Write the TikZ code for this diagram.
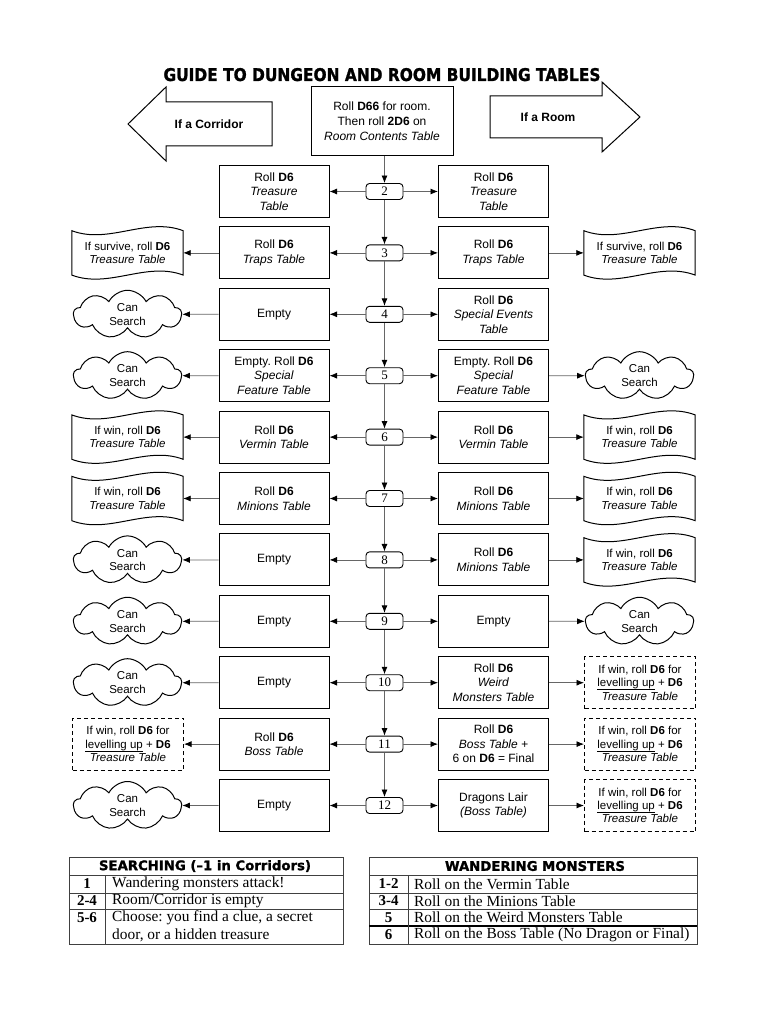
\documentclass[tikz,border=0pt]{standalone}
\usepackage{fontspec}
\setmainfont{Liberation Sans}
\newfontfamily\seriffont{Liberation Serif}
\newfontfamily\headfont{DejaVu Sans Bold}[FakeBold=1.3]
\usetikzlibrary{arrows.meta,shapes.symbols}
\frenchspacing
\newcommand\serifnum{\seriffont\fontsize{13}{13}\selectfont}
\newcommand\outerfont{\fontsize{11.5}{13.5}\selectfont}
\newcommand\lvlul[1]{\underline{\smash{#1}\rule[-1.1pt]{0pt}{0pt}}}
\newcommand\wavydoc[1]{\draw[line width=1pt] (#1.north west) .. controls +(37,14) and +(-37,-14) .. (#1.north east) -- (#1.south east) .. controls +(-37,-14) and +(37,14) .. (#1.south west) -- cycle;}
\tikzset{
 midbox/.style={draw, line width=1pt, minimum width=110pt, minimum height=52pt, align=center, inner sep=1pt, font=\fontsize{12}{14.5}\selectfont},
 numbox/.style={draw, line width=0.9pt, rounded corners=3.5pt, minimum width=37pt, minimum height=16pt, inner sep=0pt, font=\serifnum},
 conn/.style={draw=black!60, line width=0.8pt, -{Latex[length=7.5pt,width=6pt,color=black]}},
 cloudbox/.style={cloud, cloud puffs=9, cloud puff arc=125, aspect=2.3, draw, line width=1pt, minimum width=108pt, minimum height=48pt, inner sep=0pt, align=center, font=\outerfont},
 dashbox/.style={draw, line width=1pt, dash pattern=on 4pt off 3pt, minimum width=111pt, minimum height=52pt, align=center, inner sep=1pt, font=\fontsize{11.5}{13.3}\selectfont},
 wavebox/.style={minimum width=111pt, minimum height=44pt, align=center, inner sep=0pt, font=\outerfont},
 tabline/.style={draw=black!75, line width=0.8pt},
 tabtext/.style={anchor=west, inner sep=0pt, font=\seriffont\fontsize{15.4}{17}\selectfont},
 tabnum/.style={inner sep=0pt, font=\seriffont\bfseries\fontsize{15}{17}\selectfont},
 bigarrow/.style={draw, line width=1pt, fill=white},
}
\begin{document}
\begin{tikzpicture}[x=1pt,y=-1pt]
\useasboundingbox[fill=white] (0,0) rectangle (768,1024);

% title
\node[anchor=base, inner sep=0pt] (title) at (382,81) {\resizebox{437pt}{13pt}{\headfont GUIDE TO DUNGEON AND ROOM BUILDING TABLES}};

% big arrows
\draw[bigarrow] (128,124) -- (166,87) -- (166,102) -- (272,102) -- (272,146) -- (166,146) -- (166,161) -- cycle;
\node[font=\bfseries\fontsize{12}{14}\selectfont] (corr) at (209,124) {If a Corridor};
\draw[bigarrow] (640,117) -- (602,82) -- (602,96) -- (490,96) -- (490,138) -- (602,138) -- (602,152) -- cycle;
\node[font=\bfseries\fontsize{12}{14}\selectfont] (room) at (548,117) {If a Room};

% start box
\node[draw, line width=1pt, minimum width=142pt, minimum height=69pt, align=center, inner sep=1pt, font=\fontsize{12}{15}\selectfont] (start) at (382,121) {Roll \textbf{D66} for room.\\Then roll \textbf{2D6} on\\\textit{Room Contents Table}};

% number boxes
\node[numbox] (n2) at (384.5,191.5) {2};
\node[numbox] (n3) at (384.5,252.9) {3};
\node[numbox] (n4) at (384.5,314.3) {4};
\node[numbox] (n5) at (384.5,375.7) {5};
\node[numbox] (n6) at (384.5,437.1) {6};
\node[numbox] (n7) at (384.5,498.5) {7};
\node[numbox] (n8) at (384.5,559.9) {8};
\node[numbox] (n9) at (384.5,621.3) {9};
\node[numbox] (n10) at (384.5,682.7) {10};
\node[numbox] (n11) at (384.5,744.1) {11};
\node[numbox] (n12) at (384.5,805.5) {12};

% vertical spine
\coordinate (s0) at (start.south -| n2.north);
\draw[conn] (s0) -- (n2.north);
\draw[conn] (n2.south) -- (n3.north);
\draw[conn] (n3.south) -- (n4.north);
\draw[conn] (n4.south) -- (n5.north);
\draw[conn] (n5.south) -- (n6.north);
\draw[conn] (n6.south) -- (n7.north);
\draw[conn] (n7.south) -- (n8.north);
\draw[conn] (n8.south) -- (n9.north);
\draw[conn] (n9.south) -- (n10.north);
\draw[conn] (n10.south) -- (n11.north);
\draw[conn] (n11.south) -- (n12.north);

% middle boxes left (corridor) and right (room)
\node[midbox] (l2) at (274,191.5) {Roll \textbf{D6}\\\textit{Treasure}\\\textit{Table}};
\node[midbox] (r2) at (493.5,191.5) {Roll \textbf{D6}\\\textit{Treasure}\\\textit{Table}};
\node[midbox] (l3) at (274,252.9) {Roll \textbf{D6}\\\textit{Traps Table}};
\node[midbox] (r3) at (493.5,252.9) {Roll \textbf{D6}\\\textit{Traps Table}};
\node[midbox] (l4) at (274,314.3) {Empty};
\node[midbox] (r4) at (493.5,314.3) {Roll \textbf{D6}\\\textit{Special Events}\\\textit{Table}};
\node[midbox] (l5) at (274,375.7) {Empty. Roll \textbf{D6}\\\textit{Special}\\\textit{Feature Table}};
\node[midbox] (r5) at (493.5,375.7) {Empty. Roll \textbf{D6}\\\textit{Special}\\\textit{Feature Table}};
\node[midbox] (l6) at (274,437.1) {Roll \textbf{D6}\\\textit{Vermin Table}};
\node[midbox] (r6) at (493.5,437.1) {Roll \textbf{D6}\\\textit{Vermin Table}};
\node[midbox] (l7) at (274,498.5) {Roll \textbf{D6}\\\textit{Minions Table}};
\node[midbox] (r7) at (493.5,498.5) {Roll \textbf{D6}\\\textit{Minions Table}};
\node[midbox] (l8) at (274,559.9) {Empty};
\node[midbox] (r8) at (493.5,559.9) {Roll \textbf{D6}\\\textit{Minions Table}};
\node[midbox] (l9) at (274,621.3) {Empty};
\node[midbox] (r9) at (493.5,621.3) {Empty};
\node[midbox] (l10) at (274,682.7) {Empty};
\node[midbox] (r10) at (493.5,682.7) {Roll \textbf{D6}\\\textit{Weird}\\\textit{Monsters Table}};
\node[midbox] (l11) at (274,744.1) {Roll \textbf{D6}\\\textit{Boss Table}};
\node[midbox] (r11) at (493.5,744.1) {Roll \textbf{D6}\\\textit{Boss Table +}\\6 on \textbf{D6} = Final};
\node[midbox] (l12) at (274,805.5) {Empty};
\node[midbox] (r12) at (493.5,805.5) {Dragons Lair\\\textit{(Boss Table)}};

\foreach \k in {2,...,12}{
  \draw[conn] (n\k.west) -- (l\k.east);
  \draw[conn] (n\k.east) -- (r\k.west);
}

% outer shapes left
\node[wavebox] (ol3) at (127.5,252.9) {If survive, roll \textbf{D6}\\\textit{Treasure Table}};
\wavydoc{ol3}
\node[cloudbox] (ol4) at (127.5,314.3) {Can\\Search};
\node[cloudbox] (ol5) at (127.5,375.7) {Can\\Search};
\node[wavebox] (ol6) at (127.5,437.1) {If win, roll \textbf{D6}\\\textit{Treasure Table}};
\wavydoc{ol6}
\node[wavebox] (ol7) at (127.5,498.5) {If win, roll \textbf{D6}\\\textit{Treasure Table}};
\wavydoc{ol7}
\node[cloudbox] (ol8) at (127.5,559.9) {Can\\Search};
\node[cloudbox] (ol9) at (127.5,621.3) {Can\\Search};
\node[cloudbox] (ol10) at (127.5,682.7) {Can\\Search};
\node[dashbox] (ol11) at (128,744.1) {If win, roll \textbf{D6} for\\\lvlul{levelling up} + \textbf{D6}\\\textit{Treasure Table}};
\node[cloudbox] (ol12) at (127.5,805.5) {Can\\Search};

% outer shapes right
\node[wavebox] (or3) at (639.5,252.9) {If survive, roll \textbf{D6}\\\textit{Treasure Table}};
\wavydoc{or3}
\node[cloudbox] (or5) at (639.5,375.7) {Can\\Search};
\node[wavebox] (or6) at (639.5,437.1) {If win, roll \textbf{D6}\\\textit{Treasure Table}};
\wavydoc{or6}
\node[wavebox] (or7) at (639.5,498.5) {If win, roll \textbf{D6}\\\textit{Treasure Table}};
\wavydoc{or7}
\node[wavebox] (or8) at (639.5,559.9) {If win, roll \textbf{D6}\\\textit{Treasure Table}};
\wavydoc{or8}
\node[cloudbox] (or9) at (639.5,621.3) {Can\\Search};
\node[dashbox] (or10) at (640,682.7) {If win, roll \textbf{D6} for\\\lvlul{levelling up} + \textbf{D6}\\\textit{Treasure Table}};
\node[dashbox] (or11) at (640,744.1) {If win, roll \textbf{D6} for\\\lvlul{levelling up} + \textbf{D6}\\\textit{Treasure Table}};
\node[dashbox] (or12) at (640,805.5) {If win, roll \textbf{D6} for\\\lvlul{levelling up} + \textbf{D6}\\\textit{Treasure Table}};

\foreach \k in {3,4,5,6,7,8,9,10,11,12}{
  \draw[conn] (l\k.west) -- (ol\k.east);
}
\foreach \k in {3,5,6,7,8,9,10,11,12}{
  \draw[conn] (r\k.east) -- (or\k.west);
}

% searching table
\draw[tabline] (69,857) rectangle (343,944);
\draw[tabline] (69,875) -- (343,875);
\draw[tabline] (69,893) -- (343,893);
\draw[tabline] (69,909) -- (343,909);
\draw[tabline] (105,875) -- (105,944);
\node[inner sep=0pt] (sh) at (205,866) {\resizebox{212pt}{!}{\headfont SEARCHING (\textendash1 in Corridors)}};
\node[tabnum] (s1) at (87,884) {1};
\node[tabnum] (s2) at (87,901) {2-4};
\node[tabnum] (s3) at (87,917.5) {5-6};
\node[tabtext] (t1) at (112,884) {Wandering monsters attack!};
\node[tabtext] (t2) at (112,901) {Room/Corridor is empty};
\node[tabtext] (t3) at (112,917.5) {Choose: you find a clue, a secret};
\node[tabtext] (t4) at (112,935) {door, or a hidden treasure};

% wandering monsters table
\draw[tabline] (369,857) rectangle (697,944);
\draw[tabline] (369,875) -- (697,875);
\draw[tabline] (369,893) -- (697,893);
\draw[tabline] (369,909) -- (697,909);
\draw[tabline, line width=1.1pt, draw=black] (369,926) -- (697,926);
\draw[tabline] (408,875) -- (408,944);
\node[inner sep=0pt] (wh) at (535,866) {\resizebox{180pt}{!}{\headfont WANDERING MONSTERS}};
\node[tabnum] (w1) at (388.5,884) {1-2};
\node[tabnum] (w2) at (388.5,901) {3-4};
\node[tabnum] (w3) at (388.5,917.5) {5};
\node[tabnum] (w4) at (388.5,935) {6};
\node[tabtext] (u1) at (414,884) {Roll on the Vermin Table};
\node[tabtext] (u2) at (414,901) {Roll on the Minions Table};
\node[tabtext] (u3) at (414,917.5) {Roll on the Weird Monsters Table};
\node[tabtext] (u4) at (414,935) {Roll on the Boss Table (No Dragon or Final)};
\end{tikzpicture}
\end{document}
